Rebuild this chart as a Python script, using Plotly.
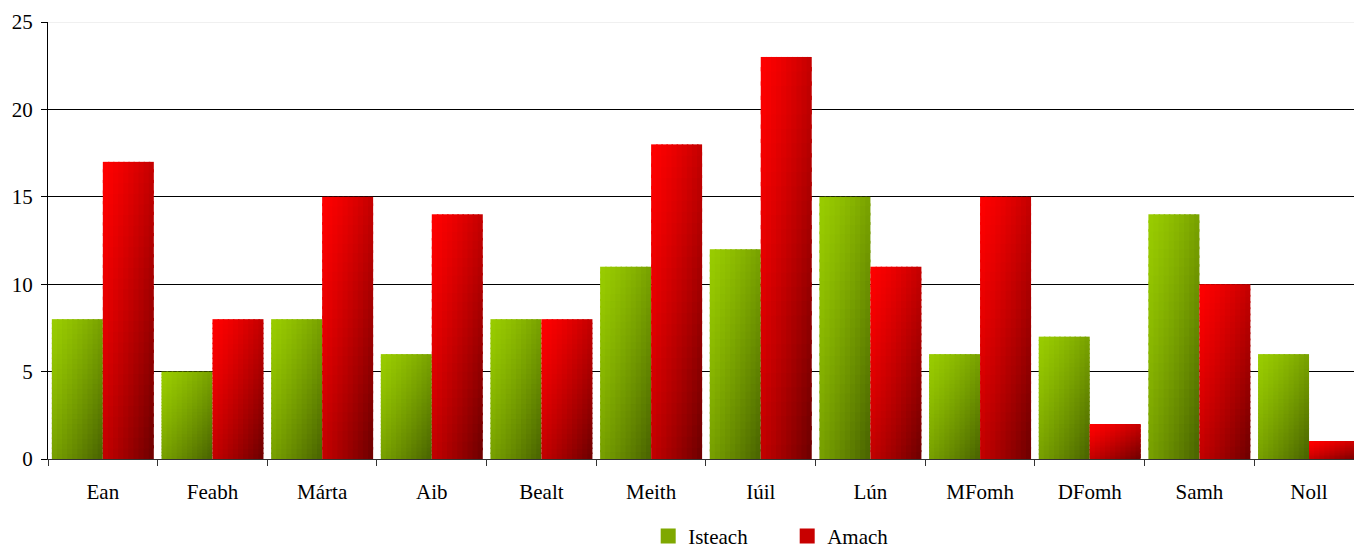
import plotly.graph_objects as go
import numpy as np

categories = ["Ean", "Feabh", "Márta", "Aib", "Bealt", "Meith", "Iúil", "Lún", "MFomh", "DFomh", "Samh", "Noll"]
isteach = [8, 5, 8, 6, 8, 11, 12, 15, 6, 7, 14, 6]
amach = [17, 8, 15, 14, 8, 18, 23, 11, 15, 2, 10, 1]
series_names = ["Isteach", "Amach"]
y_ticks = [0, 5, 10, 15, 20, 25]

FONT = "Liberation Serif, Times New Roman, serif"
BAR_W = 0.465
NX, NY = 10, 28

# gradient endpoints (top-left light -> bottom-right dark)
grad = {
    "Isteach": ((0x99, 0xCC, 0x00), (0x48, 0x62, 0x00)),
    "Amach": ((0xFF, 0x00, 0x00), (0x6C, 0x00, 0x00)),
}
legend_col = {"Isteach": "#7fa800", "Amach": "#c80000"}


def col(c0, c1, t):
    return "rgb(%d,%d,%d)" % tuple(round(a + (b - a) * t) for a, b in zip(c0, c1))


fig = go.Figure()
for s, vals, off in [("Isteach", isteach, -BAR_W), ("Amach", amach, 0.0)]:
    v = np.array(vals, dtype=float)
    c0, c1 = grad[s]
    for j in range(NY):
        for i in range(NX):
            fx = (i + 0.5) / NX
            fy = 1 - (j + 0.5) / NY
            t = ((fx + fy) / 2) ** 1.3
            w = BAR_W / NX
            wext = w * (1.3 if i < NX - 1 else 1.0)
            h = v / NY
            hext = h * (1.3 if j < NY - 1 else 1.0)
            fig.add_trace(go.Bar(
                x=categories, y=hext, base=v * j / NY,
                width=[wext] * len(categories), offset=off + i * w,
                marker=dict(color=col(c0, c1, t), line=dict(width=0)),
                showlegend=False, hoverinfo="skip",
            ))

for s in series_names:
    fig.add_trace(go.Scatter(x=[None], y=[None], mode="markers", name=s,
                             marker=dict(symbol="square", size=15, color=legend_col[s]),
                             showlegend=True))

fig.add_shape(type="line", xref="paper", yref="y", x0=0, x1=1, y0=25, y1=25,
              line=dict(color="#e2e2e2", width=1), layer="above")

fig.update_layout(
    width=1354, height=550,
    margin=dict(l=48, r=0, t=22, b=91, autoexpand=False),
    barmode="overlay",
    plot_bgcolor="white", paper_bgcolor="white",
    font=dict(family=FONT, size=21, color="black"),
    xaxis=dict(
        type="category", range=[-0.5, 11.41], automargin=False,
        tickson="boundaries", ticks="outside", ticklen=6, tickcolor="#333",
        showline=True, linecolor="#333", linewidth=1, showgrid=False,
        ticklabelstandoff=14, tickfont=dict(family=FONT, size=21, color="black"),
    ),
    yaxis=dict(
        range=[0, 25], tickvals=y_ticks, ticks="outside", ticklen=6, tickcolor="black",
        showline=True, linecolor="black", linewidth=1, automargin=False,
        showgrid=True, gridcolor="black", gridwidth=1, zeroline=False,
        ticklabelstandoff=4, tickfont=dict(family=FONT, size=21, color="black"),
    ),
    legend=dict(orientation="h", x=0.566, xanchor="center", y=-0.177, yanchor="middle",
                font=dict(family=FONT, size=21, color="black"),
                entrywidth=94, traceorder="normal", itemwidth=30),
)

fig.write_html("out.html", config={"displayModeBar": False},
               post_script="document.body.style.margin='0';document.body.style.overflow='hidden';")
